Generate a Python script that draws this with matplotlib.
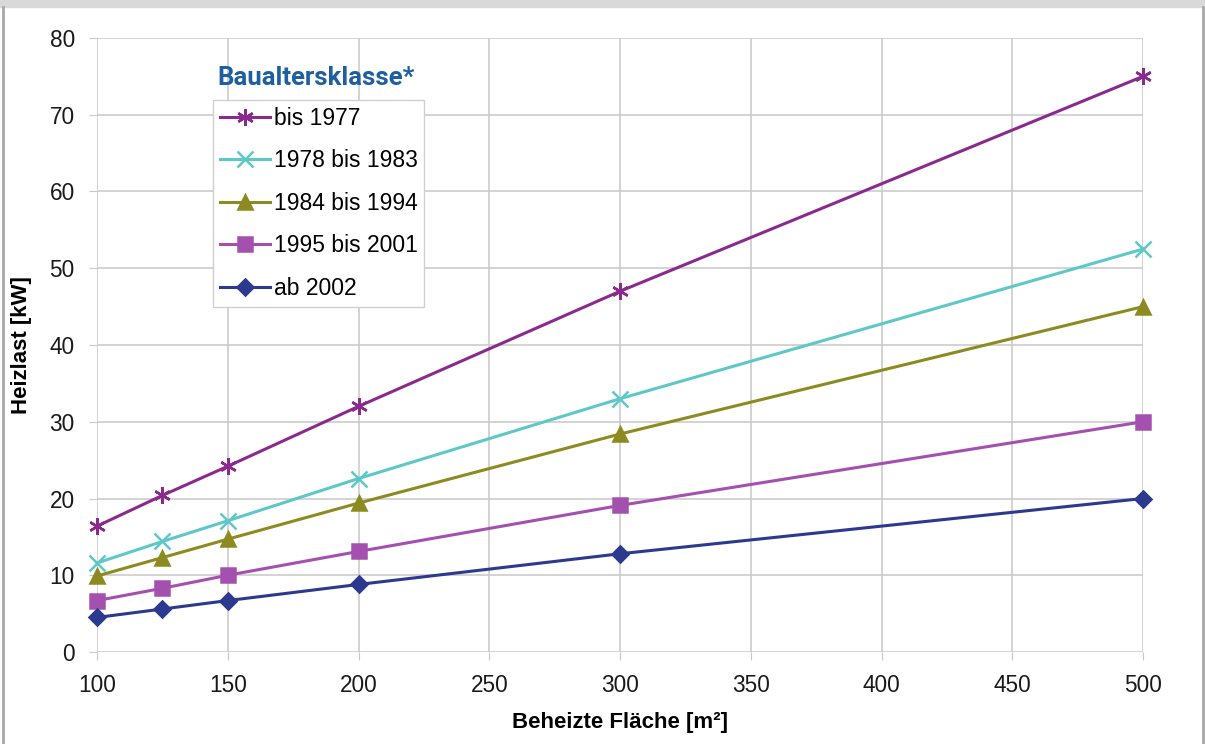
import numpy as np
import matplotlib.pyplot as plt
from matplotlib.patches import Rectangle
from matplotlib.lines import Line2D

plt.rcParams['font.family'] = ['Liberation Sans', 'DejaVu Sans']

flaeche = [100, 125, 150, 200, 300, 500]
bis_1977 = [16.4, 20.4, 24.2, 32.0, 47.0, 75.0]
von_1978 = [11.6, 14.4, 17.1, 22.6, 33.0, 52.5]
von_1984 = [9.9, 12.3, 14.7, 19.4, 28.4, 45.0]
von_1995 = [6.7, 8.3, 10.0, 13.1, 19.1, 30.0]
ab_2002 = [4.5, 5.6, 6.7, 8.8, 12.8, 20.0]

labels = ['bis 1977', '1978 bis 1983', '1984 bis 1994', '1995 bis 2001', 'ab 2002']
series = [bis_1977, von_1978, von_1984, von_1995, ab_2002]
colors = ['#8a2a8c', '#5ec8c8', '#8c8a20', '#a350ae', '#2b3a8f']
markers = [(6, 2, 0), 'x', '^', 's', 'D']
msizes = [12, 11, 10, 9.5, 8]

fig = plt.figure(figsize=(12.05, 7.44), dpi=100)
ax = fig.add_axes([97 / 1205, 1 - 652 / 744, (1143 - 97) / 1205, (652 - 38) / 744])

for vals, lab, c, m, ms in zip(series, labels, colors, markers, msizes):
    ax.plot(flaeche, vals, color=c, lw=2.2, marker=m, ms=ms, mew=1.8,
            label=lab, clip_on=False, zorder=3)

ax.set_xlim(100, 500)
ax.set_ylim(0, 80)
ax.set_xticks(np.arange(100, 501, 50))
ax.set_yticks(np.arange(0, 81, 10))
ax.grid(True, color='#c8c8c8', lw=1.1)
for s in ax.spines.values():
    s.set_visible(False)
ax.tick_params(axis='both', length=6, color='#c8c8c8', labelsize=16.3, labelcolor='#1a1a1a')
ax.tick_params(axis='x', pad=10)
ax.tick_params(axis='y', pad=10)
ax.set_xlabel('Beheizte Fläche [m²]', fontsize=16, fontweight='bold')
ax.set_ylabel('Heizlast [kW]', fontsize=16, fontweight='bold')
ax.xaxis.set_label_coords(0.5, -(712 - 652) / 614)
ax.yaxis.set_label_coords(-(97 - 32) / 1046, 0.5)

leg = ax.legend(loc='upper left', bbox_to_anchor=(116 / 1046, 1 - 62 / 614),
                fontsize=16.5, handlelength=2.2, handletextpad=0.15,
                labelspacing=0.85, borderpad=0.3, borderaxespad=0, frameon=True,
                fancybox=False, edgecolor='#d0d0d0', framealpha=1)
leg.get_frame().set_linewidth(1.0)

fig.text(217 / 1205, 1 - 78 / 744, 'Baualtersklasse*', fontsize=18.5, fontweight='bold',
         color='#1f5f9f', family=['Roboto', 'DejaVu Sans'], va='center')

# frame of the page
fig.patches.append(Rectangle((0, 1 - 7 / 744), 1, 7 / 744, transform=fig.transFigure,
                             color='#d9d9d9', zorder=0))
fig.add_artist(Line2D([2.5 / 1205, 2.5 / 1205], [0, 1 - 7 / 744], color='#a8a8a8', lw=2))
fig.add_artist(Line2D([1 - 2.5 / 1205, 1 - 2.5 / 1205], [0, 1 - 7 / 744], color='#a8a8a8', lw=2))

fig.savefig('out.png', dpi=100)
